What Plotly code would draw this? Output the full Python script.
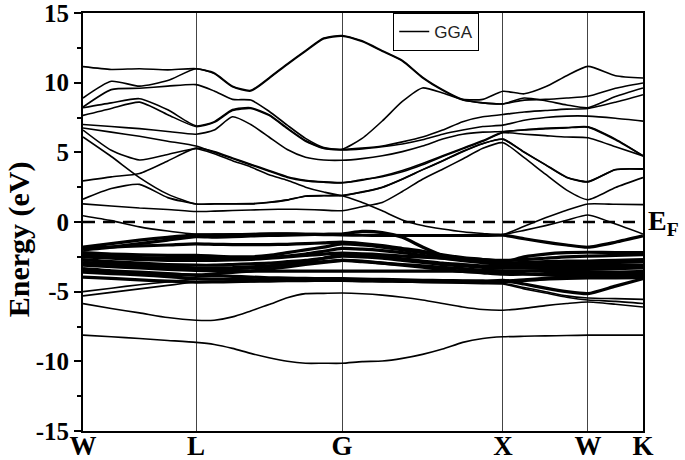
"""
GGA band structure along the W-L-G-X-W-K path (energies in eV).
"""

import numpy as np
import plotly.graph_objects as go

# ── High-symmetry path ─────────────────────────────────────────────────────

K_LABELS = ["W", "L", "G", "X", "W", "K"]
K_NODES = [0.0, 0.6915, 1.585, 2.570, 3.090, 3.427]
K_STEPS = [4, 8, 8, 4, 2]          # samples read per segment

Y_TICKS = [-15, -10, -5, 0, 5, 10, 15]
Y_TICK_TEXT = ["-15", "-10", "-5", "0", "5", "10", "15"]

# ── Bands (W | L ... G | ... X | ... W | ... K) ────────────────────────────

# conduction bands
B1 = [11.15, 10.95, 11.0, 10.92, 11.0, 10.7, 9.75, 9.45, 10.35, 11.35, 12.3, 13.2, 13.38,
      13.0, 12.3, 11.6, 10.4, 9.5, 8.8, 8.55, 8.48, 8.75, 8.8, 8.9, 9.02, 9.6, 9.98]
B2 = [8.9, 10.1, 9.75, 10.15, 11.0, 10.65, 9.7, 9.4, 10.3, 11.3, 12.25, 13.15, 13.34,
      12.95, 12.25, 11.55, 10.35, 9.45, 8.75, 8.55, 8.48, 8.9, 8.7, 8.4, 8.2, 9.0, 9.62]
B3 = [8.25, 9.5, 9.6, 9.75, 9.86, 9.4, 8.8, 8.75, 7.95, 6.95, 6.0, 5.35, 5.22,
      6.0, 7.25, 8.65, 9.62, 9.26, 8.8, 8.8, 9.38, 9.2, 9.7, 10.5, 11.17, 10.5, 10.33]
B4 = [8.2, 8.55, 8.85, 8.05, 6.9, 7.2, 8.07, 8.2, 7.7, 6.75, 5.85, 5.3, 5.2,
      5.3, 5.45, 5.75, 6.1, 6.6, 7.2, 7.55, 7.71, 7.9, 8.0, 8.1, 8.15, 8.6, 9.14]
B5 = [7.65, 8.15, 8.6, 7.7, 6.85, 7.15, 8.0, 8.15, 7.65, 6.7, 5.8, 5.28, 5.18,
      5.25, 5.4, 5.6, 5.9, 6.3, 6.6, 6.85, 6.95, 7.3, 7.5, 7.6, 7.6, 7.45, 7.24]
B6 = [7.0, 6.85, 6.7, 6.5, 6.3, 6.6, 7.55, 7.0, 6.1, 5.2, 4.65, 4.45, 4.43,
      4.55, 4.75, 5.05, 5.45, 5.95, 6.3, 6.45, 6.5, 6.6, 6.7, 6.75, 6.81, 5.9, 4.74]
B7 = [6.75, 6.45, 6.15, 5.8, 5.45, 5.0, 4.55, 4.1, 3.65, 3.2, 2.95, 2.85, 2.8,
      3.05, 3.25, 3.6, 4.1, 4.7, 5.25, 5.8, 6.4, 6.3, 6.2, 6.1, 6.05, 5.4, 4.74]
B8 = [6.6, 5.15, 4.45, 4.85, 5.26, 4.9, 4.4, 3.95, 3.4, 3.0, 2.5, 2.15, 1.9,
      2.14, 2.48, 3.07, 3.74, 4.38, 5.05, 5.62, 5.93, 5.0, 4.1, 3.2, 2.88, 3.75, 3.79]
B9 = [1.64, 2.4, 2.7, 1.75, 1.29, 1.29, 1.29, 1.3, 1.4, 1.57, 1.85, 1.88, 1.88,
      1.4, 0.8, 0.15, -0.25, -0.5, -0.7, -0.82, -0.9, -0.3, 0.3, 0.85, 1.29, 1.27, 1.25]
B10 = [1.3, 1.15, 1.0, 0.9, 0.75, 0.78, 0.82, 0.86, 0.9, 0.92, 0.9, 0.85, 0.81,
       1.1, 1.4, 2.19, 3.07, 3.79, 4.52, 5.29, 5.69, 4.62, 3.43, 2.29, 1.6, 2.48, 3.19]
B11 = [2.95, 3.24, 3.48, 4.38, 5.3, 5.05, 4.6, 4.15, 3.7, 3.25, 3.0, 2.88, 2.83,
       3.0, 3.3, 3.7, 4.2, 4.75, 5.3, 5.85, 6.45, 6.62, 6.72, 6.78, 6.83, 5.95, 4.76]
B12 = [6.1, 4.7, 3.19, 2.0, 1.29, 1.31, 1.31, 1.32, 1.42, 1.59, 1.87, 1.9, 1.9,
       2.16, 2.5, 3.09, 3.76, 4.4, 5.07, 5.64, 5.95, 5.02, 4.12, 3.22, 2.9, 3.77, 3.81]
B13 = [0.45, 0.1, -0.35, -0.65, -0.88, -0.87, -0.85, -0.83, -0.8, -0.8, -0.82, -0.88, -0.95,
       -0.93, -0.92, -0.92, -0.93, -0.94, -0.94, -0.92, -0.9, -0.6, -0.26, 0.12, 0.5, -0.14, -0.86]

# valence manifold (the dark block between about -1.5 and -4.5 eV)
D1 = [-1.8, -1.55, -1.3, -1.1, -0.92, -0.93, -0.92, -0.9, -0.88, -0.87, -0.88, -0.9, -0.93,
      -0.95, -0.96, -0.97, -0.97, -0.97, -0.97, -0.96, -0.95, -1.2, -1.45, -1.65, -1.81, -1.45, -1.0]
D2 = [-2.0, -1.8, -1.55, -1.3, -1.05, -1.08, -1.05, -1.0, -0.97, -0.94, -0.9, -0.88, -0.86,
      -0.68, -0.76, -1.1, -1.8, -2.4, -2.6, -2.7, -2.76, -2.7, -2.6, -2.5, -2.45, -2.4, -2.35]
D3 = [-1.9, -1.8, -1.72, -1.65, -1.57, -1.6, -1.62, -1.63, -1.62, -1.6, -1.55, -1.5, -1.45,
      -1.55, -1.7, -1.9, -2.1, -2.35, -2.55, -2.7, -2.88, -2.5, -2.3, -2.2, -2.17, -2.2, -2.2]
D4 = [-2.2, -2.3, -2.35, -2.4, -2.4, -2.45, -2.5, -2.5, -2.4, -2.2, -2.0, -1.8, -1.57,
      -1.65, -1.8, -2.0, -2.2, -2.45, -2.65, -2.8, -2.95, -2.9, -2.85, -2.8, -2.8, -2.75, -2.7]
D5 = [-2.5, -2.6, -2.7, -2.75, -2.76, -2.75, -2.72, -2.68, -2.6, -2.5, -2.4, -2.3, -2.24,
      -2.28, -2.35, -2.45, -2.52, -2.6, -2.7, -2.85, -3.0, -3.05, -3.1, -3.1, -3.1, -3.1, -3.1]
D6 = [-2.7, -2.85, -2.95, -3.05, -3.1, -3.1, -3.05, -3.0, -2.95, -2.85, -2.75, -2.6, -2.45,
      -2.5, -2.6, -2.75, -2.9, -3.05, -3.15, -3.25, -3.3, -3.3, -3.35, -3.4, -3.4, -3.35, -3.3]
D7 = [-2.9, -3.0, -3.1, -3.2, -3.3, -3.3, -3.28, -3.22, -3.15, -3.05, -2.95, -2.85, -2.75,
      -2.85, -2.95, -3.05, -3.15, -3.25, -3.35, -3.45, -3.5, -3.5, -3.5, -3.55, -3.6, -3.6, -3.55]
D8 = [-3.1, -3.2, -3.3, -3.4, -3.48, -3.5, -3.5, -3.52, -3.52, -3.52, -3.52, -3.52, -3.52,
      -3.52, -3.52, -3.52, -3.53, -3.53, -3.54, -3.55, -3.55, -3.7, -3.8, -3.85, -3.85, -3.8, -3.75]
D9 = [-3.35, -3.5, -3.6, -3.7, -3.83, -3.85, -3.9, -3.95, -4.0, -4.03, -4.05, -4.06, -4.07,
      -4.1, -4.12, -4.15, -4.18, -4.2, -4.22, -4.23, -4.24, -4.15, -4.05, -3.98, -3.95, -3.92, -3.9]
D10 = [-3.6, -3.7, -3.8, -3.92, -4.07, -4.1, -4.12, -4.14, -4.16, -4.17, -4.18, -4.19, -4.2,
       -4.22, -4.24, -4.26, -4.28, -4.3, -4.3, -4.3, -4.3, -4.2, -4.1, -4.05, -4.02, -4.02, -4.0]
D11 = [-3.95, -4.05, -4.15, -4.25, -4.31, -4.3, -4.28, -4.25, -4.22, -4.2, -4.17, -4.15, -4.14,
       -4.16, -4.18, -4.2, -4.22, -4.24, -4.26, -4.28, -4.19, -4.45, -4.75, -5.0, -5.14, -4.6, -4.07]
D12 = [-2.35, -2.45, -2.55, -2.6, -2.6, -2.62, -2.62, -2.6, -2.55, -2.45, -2.3, -2.1, -1.9,
       -1.95, -2.05, -2.2, -2.4, -2.6, -2.78, -2.92, -3.05, -3.0, -2.95, -2.9, -2.9, -2.9, -2.85]
D13 = [-3.0, -3.1, -3.2, -3.3, -3.38, -3.38, -3.35, -3.3, -3.2, -3.05, -2.85, -2.6, -2.35,
       -2.4, -2.5, -2.65, -2.8, -2.95, -3.05, -3.15, -3.2, -3.2, -3.2, -3.25, -3.25, -3.25, -3.2]
D14 = [-3.5, -3.6, -3.7, -3.75, -3.8, -3.72, -3.62, -3.52, -3.38, -3.22, -3.05, -2.9, -2.75,
       -2.8, -2.95, -3.1, -3.25, -3.4, -3.55, -3.65, -3.75, -3.75, -3.7, -3.7, -3.7, -3.7, -3.65]
V2 = [-5.0, -4.75, -4.5, -4.3, -4.07, -4.09, -4.1, -4.12, -4.13, -4.14, -4.15, -4.16, -4.18,
      -4.2, -4.22, -4.25, -4.28, -4.3, -4.33, -4.36, -4.4, -4.7, -5.0, -5.3, -5.45, -5.5, -5.55]
V3 = [-5.3, -5.05, -4.8, -4.55, -4.31, -4.31, -4.3, -4.29, -4.28, -4.27, -4.26, -4.25, -4.24,
      -4.26, -4.28, -4.3, -4.33, -4.36, -4.39, -4.42, -4.45, -4.8, -5.1, -5.4, -5.6, -5.7, -5.85]
V1 = [-5.86, -6.21, -6.52, -6.86, -7.05, -7.05, -6.81, -6.38, -5.93, -5.43, -5.14, -5.12, -5.1,
      -5.15, -5.25, -5.4, -5.6, -5.85, -6.1, -6.28, -6.33, -6.2, -6.0, -5.85, -5.74, -5.9, -6.1]
V0 = [-8.12, -8.24, -8.36, -8.5, -8.64, -8.79, -9.07, -9.43, -9.74, -10.0, -10.14, -10.14, -10.14,
      -10.02, -9.98, -9.79, -9.5, -9.12, -8.64, -8.36, -8.24, -8.2, -8.17, -8.15, -8.12, -8.12, -8.12]

CONDUCTION = [B1, B2, B3, B4, B5, B6, B7, B8, B9, B10, B11, B12, B13]
MANIFOLD = [D1, D2, D3, D4, D5, D6, D7, D8, D9, D10, D11, D12, D13, D14]
LOWER = [V2, V3, V1, V0]

SERIF = "Liberation Serif"


def k_path():
    ks = [K_NODES[0]]
    for a, b, n in zip(K_NODES[:-1], K_NODES[1:], K_STEPS):
        ks.extend(np.linspace(a, b, n + 1)[1:])
    return np.array(ks)


def add_bands(fig, k, bands, width, first=False):
    for i, band in enumerate(bands):
        fig.add_trace(go.Scatter(
            x=k, y=band, mode="lines", name="GGA",
            line=dict(color="black", width=width, shape="spline", smoothing=0.6),
            showlegend=(first and i == 0), hoverinfo="skip",
        ))


def main():
    k = k_path()
    fig = go.Figure()

    add_bands(fig, k, CONDUCTION, 1.6, first=True)
    add_bands(fig, k, MANIFOLD, 3.2)
    add_bands(fig, k, LOWER, 1.6)

    # Fermi level
    fig.add_shape(type="line", xref="paper", x0=0, x1=1, y0=0, y1=0,
                  line=dict(color="black", width=2.5, dash="12px,8px"))
    fig.add_annotation(text="E<sub>F</sub>", xref="paper", x=1.0, y=0,
                       xanchor="left", yanchor="middle", xshift=3, showarrow=False,
                       font=dict(family=SERIF, size=28, color="black", weight="bold"))

    # axis title placed by hand: it sits a little below the axis centre
    fig.add_annotation(text="Energy (eV)", xref="paper", yref="paper",
                       x=-0.114, y=0.459, textangle=-90, showarrow=False,
                       xanchor="center", yanchor="middle",
                       font=dict(family=SERIF, size=30, color="black", weight="bold"))

    fig.update_layout(
        template="none",
        width=685, height=460,
        margin=dict(l=83, r=42, t=13, b=29),
        plot_bgcolor="white", paper_bgcolor="white",
        showlegend=True,
        legend=dict(x=0.554, y=1.0, xanchor="left", yanchor="top",
                    bordercolor="black", borderwidth=1, bgcolor="white",
                    tracegroupgap=0, itemwidth=30,
                    font=dict(family="Liberation Sans", size=17, color="#222")),
    )
    fig.update_xaxes(
        range=[K_NODES[0], K_NODES[-1]], tickvals=K_NODES, ticktext=K_LABELS,
        ticks="", showgrid=True, gridcolor="#444", gridwidth=1, zeroline=False,
        showline=True, linecolor="black", linewidth=2, mirror=True, automargin=False,
        ticklabeloverflow="allow", ticklabelstandoff=-10,
        tickfont=dict(family=SERIF, size=27, color="black", weight="bold"),
    )
    fig.update_yaxes(
        range=[-15, 15], tickvals=Y_TICKS, ticktext=Y_TICK_TEXT,
        ticks="outside", ticklen=7, tickwidth=1.5, tickcolor="black",
        minor=dict(tick0=0, dtick=2.5, ticks="outside", ticklen=4, tickcolor="black"),
        showgrid=False, zeroline=False, automargin=False, ticklabeloverflow="allow",
        showline=True, linecolor="black", linewidth=2, mirror=True,
        tickfont=dict(family=SERIF, size=25, color="black", weight="bold"),
    )

    # the page's default body margin would shift the figure by 8px
    fig.write_html("out.html", config={"displayModeBar": False},
                   post_script="document.body.style.margin='0px';")


if __name__ == "__main__":
    main()
